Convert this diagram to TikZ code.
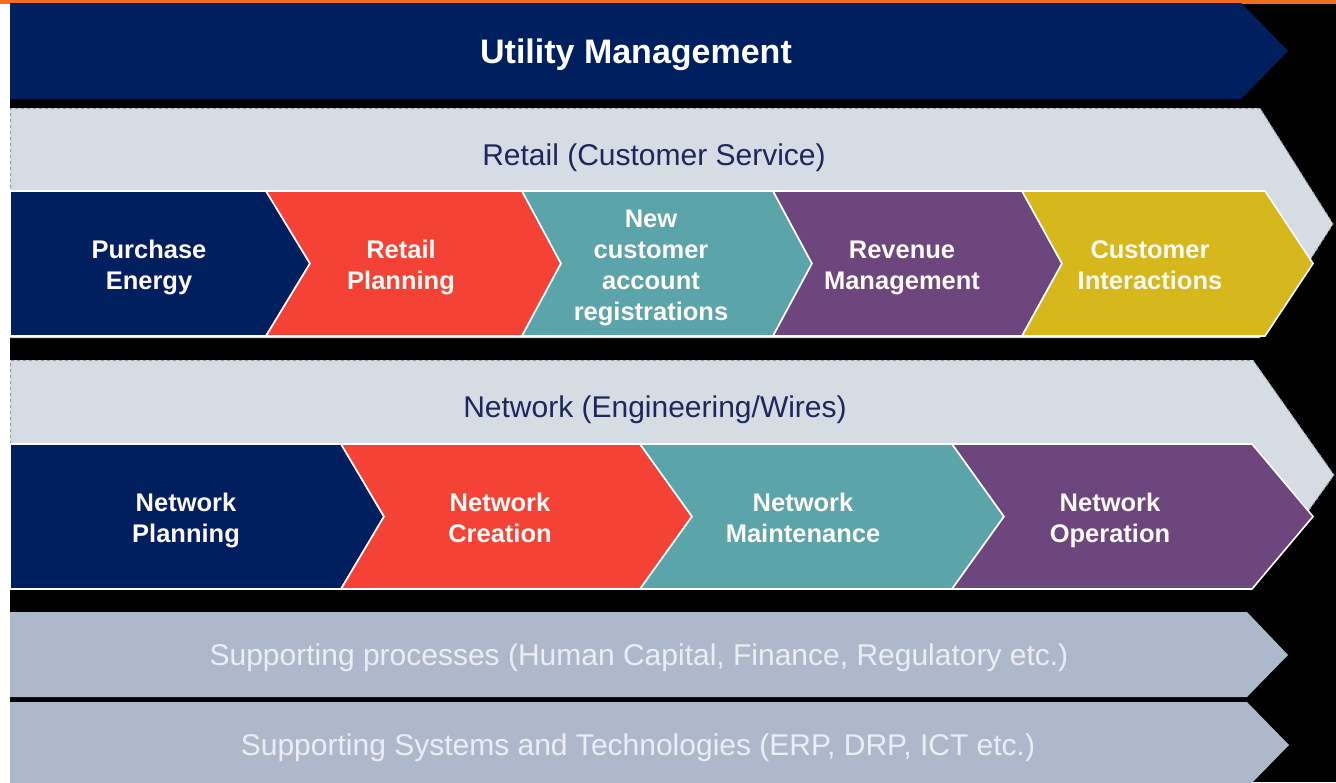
\documentclass[tikz,border=0pt]{standalone}
\usepackage{fontspec}
\setmainfont{Liberation Sans}
\definecolor{cnavy}{RGB}{0,31,94}
\definecolor{cred}{RGB}{245,66,54}
\definecolor{cteal}{RGB}{90,164,170}
\definecolor{cpurple}{RGB}{108,70,125}
\definecolor{cyellow}{RGB}{214,184,28}
\definecolor{clight}{RGB}{214,220,228}
\definecolor{clightedge}{RGB}{150,158,170}
\definecolor{csupp}{RGB}{173,185,202}
\definecolor{csupptext}{RGB}{234,238,244}
\definecolor{cbandtext}{RGB}{28,40,90}
\definecolor{corange}{RGB}{242,110,30}
\definecolor{cchevtext}{RGB}{255,250,245}
\tikzset{
  chevshape/.style={draw=white, line width=1.6pt, line join=miter},
  lightfill/.style={fill=clight},
  lightedge/.style={draw=clightedge, dashed, line width=1pt},
  suppband/.style={fill=csupp},
  chevtext/.style={text=cchevtext, align=center, anchor=base, font=\fontsize{25.5}{31}\selectfont\bfseries, inner sep=0pt},
  bandtext/.style={text=cbandtext, font=\fontsize{30}{36}\selectfont, inner sep=0pt},
  supptext/.style={text=csupptext, font=\fontsize{30}{36}\selectfont, inner sep=0pt},
  titletext/.style={text=white, font=\fontsize{34}{40}\selectfont\bfseries, inner sep=0pt}
}
\begin{document}
\begin{tikzpicture}[x=1pt,y=-1pt]
\useasboundingbox (0,0) rectangle (1336,782);
\clip (0,0) rectangle (1336,782);
% background
\fill[black] (0,0) rectangle (1336,782);
\fill[white] (0,3) rectangle (10,782);
\fill[corange] (0,0) rectangle (1336,3.5);

% Utility management band
\fill[cnavy] (10,3) -- (1241,3) -- (1288,51) -- (1241,99) -- (10,99) -- cycle;
\node[titletext] (util) at (636,55) {Utility Management};

% Retail band
\fill[lightfill] (10,108) -- (1260,108) -- (1333,224) -- (1260,338) -- (10,338) -- cycle;
\draw[lightedge] (10.5,338) -- (10.5,108.5) -- (1260,108.5) -- (1333,224) -- (1260,338);
\node[bandtext] (retail) at (654,158) {Retail (Customer Service)};

% Row 1 chevrons
\path[chevshape, fill=cnavy] (10,191) -- (266,191) -- (310,263.5) -- (266,336) -- (10,336) -- cycle;
\path[chevshape, fill=cred] (266,191) -- (522,191) -- (561,263.5) -- (522,336) -- (266,336) -- (310,263.5) -- cycle;
\path[chevshape, fill=cteal] (522,191) -- (773,191) -- (812,263.5) -- (773,336) -- (522,336) -- (561,263.5) -- cycle;
\path[chevshape, fill=cpurple] (773,191) -- (1022,191) -- (1062,263.5) -- (1022,336) -- (773,336) -- (812,263.5) -- cycle;
\path[chevshape, fill=cyellow] (1022,191) -- (1265,191) -- (1313,263.5) -- (1265,336) -- (1022,336) -- (1062,263.5) -- cycle;
\node[chevtext] (purchase) at (149,289) {Purchase\\Energy};
\node[chevtext] (rplan) at (401,289) {Retail\\Planning};
\node[chevtext] (newcust) at (651,320) {New\\customer\\account\\registrations};
\node[chevtext] (revenue) at (902,289) {Revenue\\Management};
\node[chevtext] (custint) at (1150,289) {Customer\\Interactions};

% Network band
\fill[lightfill] (10,360) -- (1253,360) -- (1334,475) -- (1253,588) -- (10,588) -- cycle;
\draw[lightedge] (10.5,588) -- (10.5,360.5) -- (1253,360.5) -- (1334,475) -- (1253,588);
\node[bandtext] (network) at (655,410) {Network (Engineering/Wires)};

% Row 2 chevrons
\path[chevshape, fill=cnavy] (10,444) -- (341,444) -- (384,516.5) -- (341,589) -- (10,589) -- cycle;
\path[chevshape, fill=cred] (341,444) -- (640,444) -- (692,516.5) -- (640,589) -- (341,589) -- (384,516.5) -- cycle;
\path[chevshape, fill=cteal] (640,444) -- (952,444) -- (1004,516.5) -- (952,589) -- (640,589) -- (692,516.5) -- cycle;
\path[chevshape, fill=cpurple] (952,444) -- (1252,444) -- (1313,516.5) -- (1252,589) -- (952,589) -- (1004,516.5) -- cycle;
\node[chevtext] (nplan) at (186,542) {Network\\Planning};
\node[chevtext] (ncreate) at (500,542) {Network\\Creation};
\node[chevtext] (nmaint) at (803,542) {Network\\Maintenance};
\node[chevtext] (nop) at (1110,542) {Network\\Operation};

% Supporting bands
\fill[suppband] (10,612) -- (1247,612) -- (1288,655) -- (1247,697) -- (10,697) -- cycle;
\node[supptext] (supproc) at (639,658) {Supporting processes (Human Capital, Finance, Regulatory etc.)};
\fill[suppband] (10,702) -- (1247,702) -- (1289,745) -- (1247,788) -- (10,788) -- cycle;
\node[supptext] (supsys) at (638,748) {Supporting Systems and Technologies (ERP, DRP, ICT etc.)};
\end{tikzpicture}
\end{document}
